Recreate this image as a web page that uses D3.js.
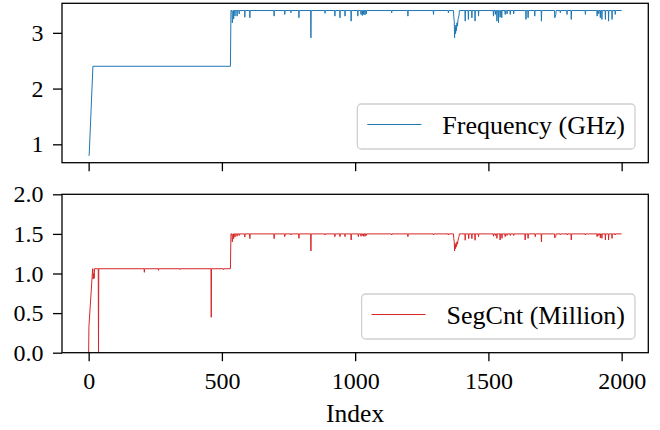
<!DOCTYPE html>
<html>
<head>
<meta charset="utf-8">
<script src="https://cdn.jsdelivr.net/npm/d3@7"></script>
<style>
  body { margin: 0; background: #fff; }
  text { font-family: "Liberation Serif", "Times New Roman", serif; fill: #000; }
</style>
</head>
<body>
<script>
// base shape of each series: [index, value] corners of the plateaus
var freqBase = [[0, 0.8], [2, 0.8], [16, 2.4], [532, 2.4], [534, 3.4], [2000, 3.4]];
var segBase = [[0, 0], [1, 0.33], [15, 1.06], [532, 1.06], [534, 1.5], [2000, 1.5]];

// short drops off the plateaus: [index, value]
var freqDips = [
  [539, 3.18], [541, 3.28], [544, 3.25], [549, 3.30], [557, 3.30], [565, 3.34], [586, 3.28], [605, 3.27],
  [696, 3.30], [736, 3.33], [759, 3.36], [789, 3.27], [834, 2.91], [887, 3.35], [924, 3.30], [943, 3.27],
  [962, 3.30], [985, 3.21], [1010, 3.30], [1022, 3.33], [1027, 3.31], [1032, 3.33], [1037, 3.32], [1042, 3.34],
  [1137, 3.36], [1198, 3.30], [1294, 3.33], [1350, 3.36],
  [1370, 3.30], [1372, 3.20], [1373, 2.91], [1374, 3.05], [1375, 2.98], [1376, 3.10], [1377, 3.00], [1378, 3.14],
  [1380, 3.04], [1382, 3.18], [1384, 3.12], [1386, 3.24], [1388, 3.28], [1390, 3.32],
  [1413, 3.21], [1425, 3.24], [1438, 3.27], [1450, 3.21], [1463, 3.30],
  [1519, 3.30], [1526, 3.33], [1532, 3.21], [1538, 3.18], [1544, 3.28], [1550, 3.27], [1563, 3.33],
  [1570, 3.34], [1582, 3.33], [1595, 3.34], [1641, 3.24], [1649, 3.27], [1674, 3.30], [1699, 3.21],
  [1749, 3.27], [1751, 3.30], [1753, 3.33], [1770, 3.36], [1795, 3.33], [1811, 3.24], [1864, 3.33],
  [1908, 3.30], [1914, 3.34], [1920, 3.27], [1926, 3.24], [1939, 3.24], [1951, 3.21], [1964, 3.24], [1976, 3.33]
];
var segDips = [
  [17, 0.93], [19, 1.00], [21, 0.94], [37, 0.0], [209, 1.015], [262, 1.04], [343, 1.05], [460, 0.447], [506, 1.05],
  [539, 1.40], [541, 1.45], [544, 1.44], [549, 1.46], [557, 1.47], [565, 1.48], [586, 1.46], [605, 1.44],
  [696, 1.44], [736, 1.465], [759, 1.486], [789, 1.444], [834, 1.284], [887, 1.486], [924, 1.465], [943, 1.465],
  [962, 1.465], [985, 1.423], [1012, 1.465], [1022, 1.47], [1027, 1.48], [1032, 1.47], [1037, 1.47], [1042, 1.48],
  [1137, 1.486], [1198, 1.465], [1294, 1.486], [1350, 1.486],
  [1370, 1.44], [1372, 1.40], [1373, 1.284], [1374, 1.35], [1375, 1.31], [1376, 1.36], [1377, 1.32], [1378, 1.38],
  [1380, 1.34], [1382, 1.40], [1384, 1.37], [1386, 1.42], [1388, 1.45], [1390, 1.47],
  [1413, 1.42], [1426, 1.44], [1438, 1.44], [1450, 1.42], [1463, 1.465],
  [1519, 1.47], [1526, 1.48], [1532, 1.444], [1544, 1.423], [1551, 1.444], [1563, 1.465],
  [1570, 1.48], [1582, 1.48], [1595, 1.48], [1638, 1.423], [1649, 1.444], [1676, 1.465], [1699, 1.40],
  [1749, 1.45], [1751, 1.46], [1753, 1.47], [1770, 1.49], [1796, 1.486], [1811, 1.423], [1864, 1.486],
  [1908, 1.465], [1914, 1.48], [1920, 1.45], [1926, 1.444], [1939, 1.423], [1951, 1.423], [1964, 1.444], [1976, 1.486]
];

var xTicks = [0, 500, 1000, 1500, 2000];
var freqTicks = [1, 2, 3];
var segTicks = [0.0, 0.5, 1.0, 1.5, 2.0];
var freqLabel = "Frequency (GHz)";
var segLabel = "SegCnt (Million)";
var xLabel = "Index";

var svgWidth = 660;
var svgHeight = 430;
var left = 62, right = 648.3;
var topPanel = { top: 3.3, bot: 162.7 };
var botPanel = { top: 194.3, bot: 352.7 };

var svg = d3.select("body").append("svg")
  .attr("width", svgWidth)
  .attr("height", svgHeight);

var x = d3.scaleLinear().domain([-100, 2100]).range([left, right]);
var yFreq = d3.scaleLinear().domain([0.67, 3.53]).range([topPanel.bot, topPanel.top]);
var ySeg = d3.scaleLinear().domain([0, 2]).range([botPanel.bot, botPanel.top]);

// plateau value at an index (step lookup on the base corners)
function levelAt(base, i) {
  var v = base[0][1];
  base.forEach(function(b) { if (b[0] <= i) v = b[1]; });
  return v;
}

function buildSeries(base, dips) {
  var taken = {};
  dips.forEach(function(d) { taken[d[0]] = true; });
  var pts = base.slice();
  dips.forEach(function(d) {
    var i = d[0];
    if (!taken[i - 1] && !taken[i - 2]) pts.push([i - 1, levelAt(base, i - 1)]);
    pts.push(d);
    if (!taken[i + 1] && !taken[i + 2]) pts.push([i + 1, levelAt(base, i + 1)]);
  });
  pts.sort(function(a, b) { return a[0] - b[0]; });
  return pts;
}

function drawPanel(panel, y, yTicks, fmt, showX, data, color, label) {
  var g = svg.append("g");

  g.append("g")
    .attr("transform", "translate(0," + panel.bot + ")")
    .call(d3.axisBottom(x).tickValues(xTicks).tickSize(8.5).tickPadding(11)
      .tickFormat(showX ? d3.format("d") : ""))
    .call(function(a) { a.select(".domain").remove(); });

  g.append("g")
    .attr("transform", "translate(" + left + ",0)")
    .call(d3.axisLeft(y).tickValues(yTicks).tickSize(9).tickPadding(9.5).tickFormat(fmt))
    .call(function(a) { a.select(".domain").remove(); });

  g.selectAll(".tick line").attr("stroke", "#000").attr("stroke-width", 1.3);
  g.selectAll(".tick text").style("font-size", "24px").attr("fill", "#000")
    .style("font-family", "'Liberation Serif', serif");

  var line = d3.line().x(d => x(d[0])).y(d => y(d[1]));
  g.append("path")
    .datum(data)
    .attr("d", line)
    .attr("fill", "none")
    .attr("stroke", color)
    .attr("stroke-width", 1)
    .attr("stroke-linejoin", "miter");

  g.append("rect")
    .attr("x", left).attr("y", panel.top)
    .attr("width", right - left).attr("height", panel.bot - panel.top)
    .attr("fill", "none").attr("stroke", "#000").attr("stroke-width", 1.3);

  // legend, lower right
  var leg = g.append("g");
  var box = leg.append("rect");
  var txt = leg.append("text").text(label).style("font-size", "26px");
  var tw = txt.node().getComputedTextLength();
  var bw = 85 + tw + 10, bh = 45;
  var bx = right - 13.3 - bw, by = panel.bot - 13.7 - bh;
  box.attr("x", bx).attr("y", by).attr("width", bw).attr("height", bh)
    .attr("rx", 4).attr("fill", "#fff").attr("fill-opacity", 0.8)
    .attr("stroke", "#d0d0d0").attr("stroke-width", 1.3);
  leg.append("line")
    .attr("x1", bx + 10).attr("x2", bx + 64)
    .attr("y1", by + 20.5).attr("y2", by + 20.5)
    .attr("stroke", color).attr("stroke-width", 1);
  txt.attr("x", bx + 85).attr("y", by + 29.5);
}

drawPanel(topPanel, yFreq, freqTicks, d3.format("d"), false,
  buildSeries(freqBase, freqDips), "#1f77b4", freqLabel);
drawPanel(botPanel, ySeg, segTicks, d3.format(".1f"), true,
  buildSeries(segBase, segDips), "#d62728", segLabel);

svg.append("text")
  .attr("x", (left + right) / 2)
  .attr("y", 421.7)
  .style("text-anchor", "middle")
  .style("font-size", "25.5px")
  .text(xLabel);
</script>
</body>
</html>
